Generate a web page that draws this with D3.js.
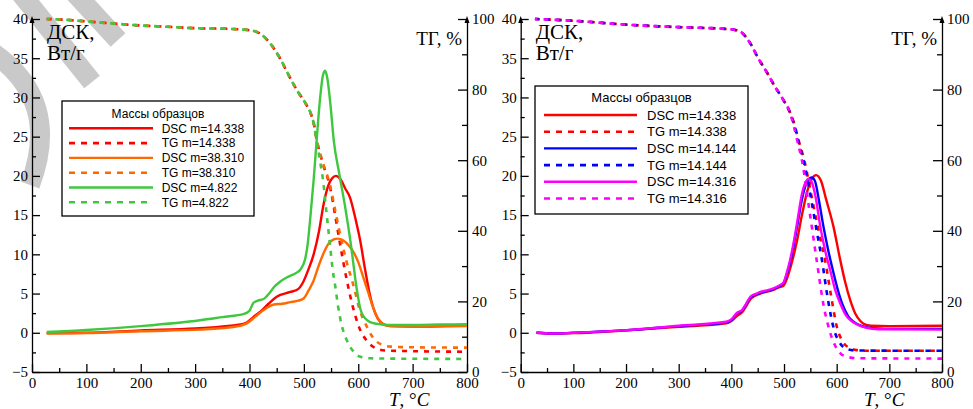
<!DOCTYPE html>
<html lang="ru">
<head>
<meta charset="UTF-8">
<title>ДСК / ТГ</title>
<script src="https://d3js.org/d3.v7.min.js"></script>
<style>
  body { margin: 0; background: #fff; }
  .tick text { font-family: "Liberation Serif", "Times New Roman", serif; font-size: 15px; fill: #000; }
  .domain, .tick line { stroke: #000; stroke-width: 1.3; }
  .lbl { font-family: "Liberation Serif", "Times New Roman", serif; fill: #000; }
  .leg text { font-family: "Liberation Sans", Arial, sans-serif; fill: #000; }
</style>
</head>
<body>
<script>
  // ---- data: [T, value] ----
  // left panel: DSC in W/g, TG in %
  var dscRed = [[27,-0.05],[100,0],[200,0.3],[300,0.55],[383,1.05],[395,1.3],[407,2.0],[420,2.7],[435,3.7],[450,4.6],[475,5.2],[490,5.6],[499,6.5],[508,8.0],[518,10.0],[528,13.0],[536,16.3],[545,18.8],[552,19.7],[559,20.0],[567,19.6],[576,18.4],[585,17.2],[595,14.5],[604,11.6],[612,8.3],[620,5.3],[628,3.1],[636,1.8],[646,1.1],[660,0.85],[700,0.8],[760,0.85],[800,0.9]];
  var dscOrange = [[27,-0.1],[100,-0.05],[200,0.2],[309,0.4],[383,0.9],[395,1.2],[410,2.0],[432,3.2],[445,3.6],[460,3.7],[475,3.9],[490,4.1],[500,4.4],[508,5.3],[517,6.5],[527,8.5],[536,10.1],[546,11.4],[555,11.9],[562,12.0],[572,11.8],[583,11.1],[592,10.2],[600,9.0],[610,6.9],[618,5.2],[626,3.5],[634,2.1],[644,1.2],[656,0.85],[700,0.8],[800,0.85]];
  var dscGreen = [[27,0.1],[100,0.35],[200,0.85],[309,1.6],[350,2.0],[390,2.4],[400,2.8],[407,3.8],[415,4.1],[426,4.3],[436,5.0],[446,5.9],[456,6.5],[470,7.1],[485,7.6],[493,8.0],[502,9.3],[507,11.3],[512,14.8],[518,19.5],[524,25.0],[530,30.0],[535,32.8],[539,33.4],[543,32.5],[549,29.0],[555,24.5],[565,20.3],[576,16.0],[586,11.5],[597,5.7],[604,3.0],[612,1.9],[622,1.35],[634,1.15],[650,1.0],[700,1.0],[750,1.05],[800,1.1]];

  var tgHeadLeft = [[27,100],[60,99.8],[94,99.4],[150,98.7],[186,98.3],[248,97.8],[300,97.4],[364,97.2],[401,96.8],[420,95.8],[438,93.1],[456,88.9],[472,84.1],[487,79.9],[505,75.6],[512,73.5],[518,70.5]];
  var tgRed = tgHeadLeft.concat([[524,65.5],[536,58.5],[548,52.5],[558,44],[568,35],[579,26],[590,18.5],[602,12.5],[616,8.8],[626,7.3],[636,6.5],[650,6.1],[700,5.9],[800,5.75]]);
  var tgOrange = tgHeadLeft.concat([[524,65.5],[536,58.8],[548,53],[558,45.5],[568,38],[579,31],[591,24.6],[604,17],[616,12.8],[626,10],[634,8.6],[646,7.6],[660,7.2],[700,7.0],[800,6.9]]);
  var tgGreen = tgHeadLeft.concat([[524,65],[530,59.5],[535.5,54],[541,46],[547,37.5],[553,29],[558,24],[563,18.5],[570,13],[579,9],[590,6],[604,4.3],[620,3.9],[700,3.75],[800,3.7]]);

  // right panel
  var dscRed2 = [[30,0],[60,-0.1],[100,-0.05],[200,0.3],[300,0.75],[390,1.2],[400,1.5],[410,2.1],[420,2.6],[438,4.4],[455,5.0],[481,5.5],[490,5.8],[499,6.0],[507,7.2],[515,9.0],[524,11.5],[534,15.0],[544,18.0],[552,19.5],[561,20.1],[570,19.4],[580,17.0],[594,13.5],[607,9.2],[616,6.5],[626,4.1],[635,2.5],[645,1.5],[651,1.15],[665,0.9],[700,0.85],[800,0.9]];
  var dscBlue = [[30,0],[60,-0.1],[100,0],[195,0.3],[300,0.85],[390,1.3],[400,1.6],[410,2.4],[420,2.8],[438,4.6],[448,4.9],[455,5.1],[467,5.3],[481,5.6],[490,5.9],[499,6.3],[505,7.4],[511,8.8],[518,11.0],[526,14.0],[534,17.0],[541,18.8],[547,19.6],[553,19.8],[559,19.3],[566,17.0],[575,13.5],[584,10.5],[593,7.9],[602,5.5],[611,3.6],[622,2.1],[632,1.4],[642,1.0],[660,0.65],[690,0.5],[800,0.5]];
  var dscMagenta = [[30,0],[60,-0.1],[100,0],[195,0.3],[300,0.9],[390,1.4],[400,1.7],[410,2.5],[420,2.9],[438,4.7],[448,5.0],[455,5.2],[467,5.4],[481,5.7],[490,6.0],[499,6.4],[505,7.6],[511,9.1],[518,11.4],[526,14.5],[534,17.7],[541,19.2],[546.5,19.6],[552,19.3],[560,17.3],[569,13.5],[578,10.5],[588,7.9],[597,5.5],[607,3.7],[618,2.2],[628,1.5],[638,1.1],[655,0.65],[680,0.45],[800,0.4]];

  var tgHeadRight = [[27,100],[60,99.8],[100,99.5],[200,98.4],[300,97.7],[341,97.5],[398,97.1],[417,96.4],[436,93.1],[451,88.9],[467,85],[483,80.8],[499,77],[510,74]];
  var tgRed2 = tgHeadRight.concat([[518,70.9],[528,65.5],[540,59],[552,50],[565,40.5],[578,31.7],[590,21],[600,13],[613,8.3],[625,6.8],[638,6.2],[660,6.0],[800,6.0]]);
  var tgBlue = tgHeadRight.concat([[518,70.8],[528,65],[540,58],[552,48.5],[562,40],[572,31.7],[584,20],[595,12],[605,8.5],[618,6.6],[635,6.1],[800,6.0]]);
  var tgMagenta = tgHeadRight.concat([[518,70],[526,65],[534,60],[548,46],[562,31.7],[575,19],[587,11.5],[597,7.5],[607,5.3],[620,4.3],[640,3.9],[800,3.8]]);

  var legendTitle = "Массы образцов";
  var labelsLeft = ["DSC m=14.338","TG m=14.338","DSC m=38.310","TG m=38.310","DSC m=4.822","TG m=4.822"];
  var labelsRight = ["DSC m=14.338","TG m=14.338","DSC m=14.144","TG m=14.144","DSC m=14.316","TG m=14.316"];

  var RED = "#ff0000", ORANGE = "#ff6a00", GREEN = "#3fc83f", BLUE = "#0000ff", MAGENTA = "#ff00ff";

  var panels = [
    { left: 32, right: 467,
      series: [
        {d: dscRed, tg: false, c: RED}, {d: tgRed, tg: true, c: RED, off: 0},
        {d: dscOrange, tg: false, c: ORANGE}, {d: tgOrange, tg: true, c: ORANGE, off: 1.2},
        {d: dscGreen, tg: false, c: GREEN}, {d: tgGreen, tg: true, c: GREEN, off: 2.4}],
      labels: labelsLeft,
      legend: {x: 62, y: 101, w: 192, h: 115, titleY: 118, row0: 128.3, step: 14.8, l0: 69, l1: 153, tx: 161.7, fs: 12} },
    { left: 520.7, right: 942,
      series: [
        {d: dscRed2, tg: false, c: RED}, {d: tgRed2, tg: true, c: RED, off: 0},
        {d: dscBlue, tg: false, c: BLUE}, {d: tgBlue, tg: true, c: BLUE, off: 1.2},
        {d: dscMagenta, tg: false, c: MAGENTA}, {d: tgMagenta, tg: true, c: MAGENTA, off: 2.4}],
      labels: labelsRight,
      legend: {x: 535, y: 86, w: 213, h: 128, titleY: 102, row0: 115, step: 16.7, l0: 544, l1: 637, tx: 647, fs: 13} }
  ];

  var W = 973, H = 409, plotTop = 19, plotBottom = 372;

  var svg = d3.select("body").append("svg")
    .attr("width", W).attr("height", H);

  // watermark (light grey, partly visible at top-left)
  var wm = svg.append("g").attr("fill", "none").attr("stroke", "#c9c9c9").attr("stroke-width", 20);
  wm.append("path").attr("d", "M18,-10 L92,82");
  wm.append("path").attr("d", "M72,-10 L118,40");
  wm.append("path").attr("d", "M-8,52 Q62,100 30,185");

  var yDsc = d3.scaleLinear().domain([-5, 40]).range([plotBottom, plotTop]);
  var yTg = d3.scaleLinear().domain([0, 100]).range([plotBottom, plotTop]);

  panels.forEach(function(p) {
    var x = d3.scaleLinear().domain([0, 800]).range([p.left, p.right]);
    var g = svg.append("g");

    // minor ticks
    g.append("g").attr("transform", "translate(0," + plotBottom + ")")
      .call(d3.axisBottom(x).tickValues(d3.range(50, 800, 100)).tickSize(-4).tickSizeOuter(0).tickFormat(""))
      .select(".domain").remove();
    g.append("g").attr("transform", "translate(" + p.left + ",0)")
      .call(d3.axisLeft(yDsc).tickValues(d3.range(-2.5, 40, 5)).tickSize(-4).tickSizeOuter(0).tickFormat(""))
      .select(".domain").remove();
    g.append("g").attr("transform", "translate(" + p.right + ",0)")
      .call(d3.axisRight(yTg).tickValues(d3.range(10, 100, 20)).tickSize(-5).tickSizeOuter(0).tickFormat(""))
      .select(".domain").remove();

    // major axes
    g.append("g").attr("transform", "translate(0," + plotBottom + ")")
      .call(d3.axisBottom(x).tickValues(d3.range(0, 801, 100)).tickSize(-8).tickSizeOuter(0).tickPadding(5));
    g.append("g").attr("transform", "translate(" + p.left + ",0)")
      .call(d3.axisLeft(yDsc).tickValues(d3.range(-5, 41, 5)).tickSize(-8).tickSizeOuter(0).tickPadding(4));
    g.append("g").attr("transform", "translate(" + p.right + ",0)")
      .call(d3.axisRight(yTg).tickValues(d3.range(0, 101, 20)).tickSize(-9).tickSizeOuter(0).tickPadding(5));

    // arrow heads
    [p.left, p.right].forEach(function(ax) {
      g.append("path").attr("d", "M" + (ax - 2.5) + "," + (plotTop + 4) + "L" + ax + "," + (plotTop - 3) + "L" + (ax + 2.5) + "," + (plotTop + 4) + "Z")
        .attr("fill", "#000");
    });

    // curves
    p.series.forEach(function(s) {
      var y = s.tg ? yTg : yDsc;
      var line = d3.line().x(function(d) { return x(d[0]); }).y(function(d) { return y(d[1]); })
        .curve(d3.curveMonotoneX);
      g.append("path").datum(s.d)
        .attr("d", line)
        .attr("fill", "none")
        .attr("stroke", s.c)
        .attr("stroke-width", s.tg ? 2.6 : 2.4)
        .attr("stroke-dasharray", s.tg ? "5,6" : null)
        .attr("stroke-dashoffset", s.tg ? s.off : null);
    });

    // axis titles
    g.append("text").attr("class", "lbl").attr("x", p.left + 15).attr("y", 39).attr("font-size", 21).text("ДСК,");
    g.append("text").attr("class", "lbl").attr("x", p.left + 15).attr("y", 60).attr("font-size", 21).text("Вт/г");
    g.append("text").attr("class", "lbl").attr("x", p.right - 5).attr("y", 45).attr("font-size", 19)
      .attr("text-anchor", "end").text("ТГ, %");
    var xt = g.append("text").attr("class", "lbl").attr("x", p.right - 78).attr("y", 406).attr("font-size", 19);
    xt.append("tspan").attr("font-style", "italic").text("T");
    xt.append("tspan").text(", °");
    xt.append("tspan").attr("font-style", "italic").text("C");

    // legend
    var L = p.legend;
    var lg = g.append("g").attr("class", "leg");
    lg.append("rect").attr("x", L.x).attr("y", L.y).attr("width", L.w).attr("height", L.h)
      .attr("fill", "#fff").attr("stroke", "#000").attr("stroke-width", 1.3);
    lg.append("text").attr("x", L.x + L.w / 2).attr("y", L.titleY).attr("text-anchor", "middle")
      .attr("font-size", L.fs).text(legendTitle);
    p.series.forEach(function(s, i) {
      var yy = L.row0 + i * L.step;
      lg.append("line").attr("x1", L.l0).attr("x2", L.l1).attr("y1", yy).attr("y2", yy)
        .attr("stroke", s.c).attr("stroke-width", s.tg ? 2.6 : 2.4)
        .attr("stroke-dasharray", s.tg ? "6,6" : null);
      lg.append("text").attr("x", L.tx).attr("y", yy).attr("dy", "0.35em")
        .attr("font-size", L.fs).text(p.labels[i]);
    });
  });
</script>
</body>
</html>
